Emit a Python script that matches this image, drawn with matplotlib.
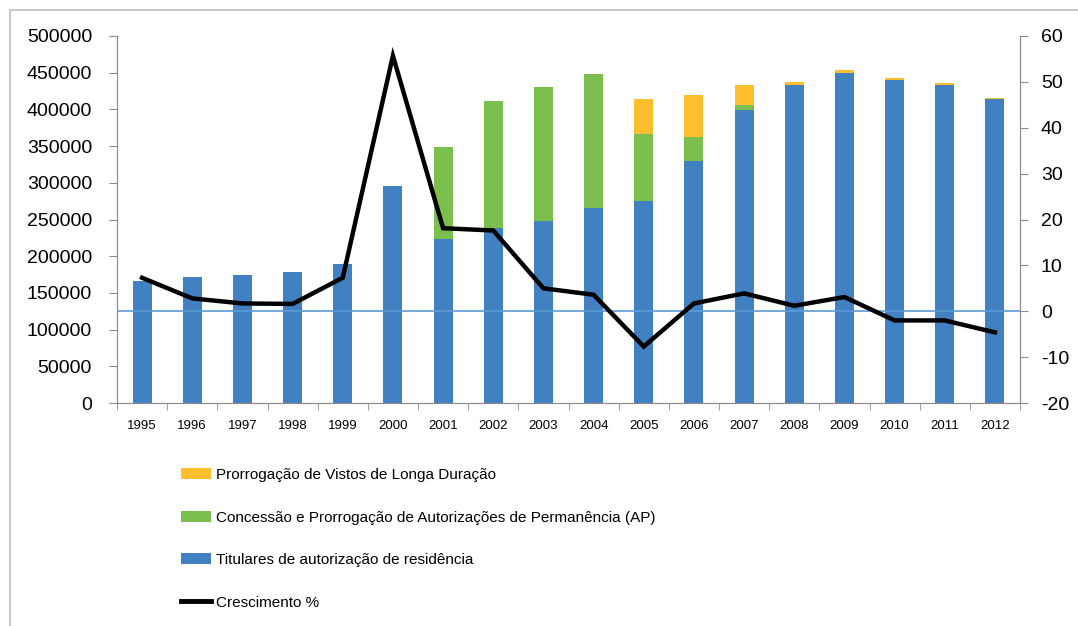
import matplotlib
matplotlib.use("Agg")
import matplotlib.pyplot as plt
import numpy as np
from matplotlib.patches import Patch, Rectangle
from matplotlib.lines import Line2D

years = ["1995", "1996", "1997", "1998", "1999", "2000", "2001", "2002", "2003",
         "2004", "2005", "2006", "2007", "2008", "2009", "2010", "2011", "2012"]
titulares = [166000, 171000, 174000, 178000, 190000, 296000, 224000, 238000, 248000,
             265000, 275000, 330000, 399000, 433000, 450000, 440000, 433000, 414000]
concessao = [0, 0, 0, 0, 0, 0, 125000, 173000, 182000,
             183000, 91000, 33000, 7000, 0, 0, 0, 0, 0]
prorrogacao = [0, 0, 0, 0, 0, 0, 0, 0, 0,
               0, 48000, 56000, 27000, 5000, 3000, 3000, 3000, 2000]
crescimento = [7.3, 2.8, 1.7, 1.6, 7.3, 55.7, 18.1, 17.6, 5.0,
               3.6, -7.7, 1.7, 3.9, 1.2, 3.1, -2.0, -2.0, -4.6]

lab_prorr = "Prorrogação de Vistos de Longa Duração"
lab_conc = "Concessão e Prorrogação de Autorizações de Permanência (AP)"
lab_tit = "Titulares de autorização de residência"
lab_cresc = "Crescimento %"

c_blue = "#4180c1"
c_green = "#7bc04f"
c_yellow = "#fdbf2d"
c_axis = "#8c8c8c"

plt.rcParams['font.family'] = ['Liberation Sans', 'DejaVu Sans']

fig = plt.figure(figsize=(10.78, 6.26), dpi=100)
fig.patches.append(Rectangle((10/1078, -0.1), 1.2, 1 - 10/626 + 0.1, transform=fig.transFigure,
                             fill=False, edgecolor="#bfbfbf", linewidth=1.2))

ax = fig.add_axes([117/1078, 1 - 403/626, (1020 - 117)/1078, 367/626])
x = np.arange(len(years))
w = 0.38
t = np.array(titulares)
c = np.array(concessao)
p = np.array(prorrogacao)
ax.bar(x, t, w, color=c_blue, zorder=2)
ax.bar(x, c, w, bottom=t, color=c_green, zorder=2)
ax.bar(x, p, w, bottom=t + c, color=c_yellow, zorder=2)

ax.set_xlim(-0.5, len(years) - 0.5)
ax.set_ylim(0, 500000)
ax.set_yticks(np.arange(0, 500001, 50000))
ax.set_yticklabels([str(v) for v in range(0, 500001, 50000)], fontsize=14)
ax.set_xticks(x)
ax.set_xticklabels(years, fontsize=9.5)
ax.set_xticks(np.arange(-0.5, len(years), 1), minor=True)
ax.tick_params(axis='x', which='major', length=0, pad=12)
ax.tick_params(axis='x', which='minor', length=5, color=c_axis, direction='out')
ax.tick_params(axis='y', length=6, color=c_axis, direction='out', pad=12)
ax.spines['top'].set_visible(False)
for s in ['left', 'bottom', 'right']:
    ax.spines[s].set_color(c_axis)

ax2 = ax.twinx()
ax2.set_ylim(-20, 60)
ax2.set_yticks(np.arange(-20, 61, 10))
ax2.set_yticklabels([str(v) for v in range(-20, 61, 10)], fontsize=14)
ax2.tick_params(axis='y', length=6, color=c_axis, direction='out', pad=9)
ax2.spines['top'].set_visible(False)
for s in ['left', 'bottom', 'right']:
    ax2.spines[s].set_color(c_axis)
ax2.axhline(0, color="#5b9bd5", linewidth=1.2, zorder=3)
ax2.plot(x, crescimento, color="black", linewidth=3.2, zorder=4, solid_joinstyle='miter')

handles = [Patch(facecolor=c_yellow, edgecolor='none'),
           Patch(facecolor=c_green, edgecolor='none'),
           Patch(facecolor=c_blue, edgecolor='none'),
           Line2D([0], [0], color='black', linewidth=3.5)]
labels = [lab_prorr, lab_conc, lab_tit, lab_cresc]
lfs = 11
fig.legend(handles, labels, loc='upper left', bbox_to_anchor=(181/1078, 1 - 468/626),
           frameon=False, prop={'size': lfs},
           handlelength=30 / (lfs * 100 / 72), handleheight=0.75,
           handletextpad=0.3, labelspacing=1.87, borderpad=0,
           borderaxespad=0)

fig.savefig("out.png", dpi=100)
